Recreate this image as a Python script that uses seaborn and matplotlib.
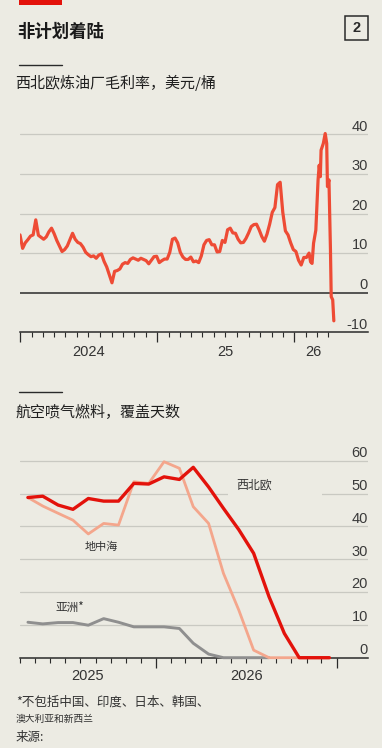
import pandas as pd
import seaborn as sns
import matplotlib.pyplot as plt
import matplotlib.dates as mdates
import matplotlib.transforms as mtransforms
from matplotlib.patches import Rectangle
from matplotlib.ticker import FixedLocator, NullFormatter

# 西北欧炼油厂毛利率 (weekly from 2024-01-01), then the March 2026 spike
margin_start = "2024-01-01"
margin_weekly = [14.6, 11.2, 12.6, 13.4, 14.3, 14.6, 18.4, 14.5, 14.0, 13.5,
                 14.1, 15.4, 16.3, 14.9, 13.2, 11.8, 10.4, 10.9, 11.8, 13.4,
                 15.0, 13.5, 12.7, 12.4, 11.5, 10.2, 9.6, 9.1, 9.3, 8.7,
                 9.5, 9.8, 7.9, 6.5, 4.5, 2.5, 5.4, 5.6, 6.0, 7.2,
                 7.6, 7.4, 8.4, 8.8, 8.5, 8.2, 8.7, 8.4, 8.1, 7.3,
                 8.2, 9.1, 9.2, 7.6, 8.1, 8.5, 8.5, 10.2, 13.5, 13.8,
                 12.6, 10.2, 9.0, 8.4, 8.4, 9.0, 7.8, 8.0, 7.6, 9.3,
                 12.1, 13.2, 13.4, 12.1, 12.1, 10.3, 10.4, 13.2, 12.7, 15.9,
                 16.3, 15.1, 15.0, 13.5, 12.6, 12.7, 13.7, 15.1, 16.7, 17.2,
                 17.3, 15.9, 14.2, 13.0, 14.8, 17.3, 20.3, 21.5, 27.3, 27.9,
                 20.3, 15.6, 14.6, 12.6, 10.9, 10.4, 8.2, 7.0, 8.9, 8.9,
                 10.0]
spike_dates = ["2026-02-13", "2026-02-17", "2026-02-21", "2026-02-27", "2026-03-05",
               "2026-03-08", "2026-03-11", "2026-03-13", "2026-03-19", "2026-03-24",
               "2026-03-28", "2026-03-30", "2026-04-03", "2026-04-07", "2026-04-09",
               "2026-04-13", "2026-04-16"]
spike_values = [7.8, 7.4, 12.5, 15.8, 28.5, 32.2, 29.3, 36.0, 37.7, 40.2,
                37.7, 26.8, 28.5, 10.8, -1.0, -1.8, -7.1]

# 航空喷气燃料，覆盖天数 (monthly, mid-month, from April 2025)
cover_start = "2025-04-01"
nw_europe = [48.8, 49.2, 46.5, 45.2, 48.5, 47.7, 47.7, 53.1, 52.9, 55.1, 54.3,
             58.0, 52.0, 45.5, 39.0, 31.8, 18.6, 7.4, 0, 0, 0]
mediterranean = [48.8, 46.2, 44.0, 41.9, 37.7, 40.9, 40.4, 53.6, 53.1, 59.7, 57.7,
                 46.0, 40.9, 25.7, 14.5, 2.3, 0, 0, 0, 0, 0]
asia = [10.8, 10.3, 10.7, 10.7, 9.9, 11.9, 10.8, 9.4, 9.4, 9.4, 8.9,
        4.4, 1.1, 0, 0, 0, 0]

top_yticks = [40, 30, 20, 10, 0, -10]
bottom_yticks = [60, 50, 40, 30, 20, 10, 0]

BG = "#ECEBE3"
DARK = "#2a2a2a"
GRID = "#C9C9C2"
CJK = ["Noto Sans CJK SC", "DejaVu Sans"]
NUM = ["Liberation Sans", "Noto Sans CJK SC"]

sns.set_style("white")
plt.rcParams["font.family"] = NUM

weekly_dates = pd.date_range(margin_start, periods=len(margin_weekly), freq="7D")
margin = pd.DataFrame({
    "date": list(weekly_dates) + list(pd.to_datetime(spike_dates)),
    "value": margin_weekly + spike_values,
})
cover_dates = pd.date_range(cover_start, periods=len(nw_europe), freq="MS") + pd.Timedelta(days=16)
cover = pd.DataFrame({"date": cover_dates, "nw": nw_europe, "med": mediterranean})
cover_asia = pd.DataFrame({"date": cover_dates[:len(asia)], "asia": asia})

fig = plt.figure(figsize=(3.82, 7.48), dpi=100, facecolor=BG)
W, H = 382, 748


def fx(px):
    return px / W


def fy(py):
    return 1 - py / H


# header pieces
fig.patches.append(Rectangle((fx(19), fy(5)), fx(43), 5 / H, transform=fig.transFigure,
                             color="#E3120B", lw=0))
fig.text(fx(17), fy(32), "非计划着陆", family=CJK, fontsize=12.5, fontweight="bold",
         color="#1a1a1a", va="center", ha="left")
fig.patches.append(Rectangle((fx(345), fy(39.5)), fx(23), 23 / H, transform=fig.transFigure,
                             fill=False, edgecolor=DARK, lw=1.1))
fig.text(fx(356.5), fy(28), "2", fontsize=10.5, fontweight="bold", color=DARK,
         ha="center", va="center")

for ly, txt, ty in [(65, "西北欧炼油厂毛利率，美元/桶", 83), (392, "航空喷气燃料，覆盖天数", 412)]:
    fig.add_artist(plt.Line2D([fx(19), fx(62)], [fy(ly), fy(ly)], color=DARK, lw=1.0))
    fig.text(fx(15), fy(ty), txt, family=CJK, fontsize=10.8, color="#1f1f1f",
             ha="left", va="center")

fig.text(fx(16), fy(702), "*不包括中国、印度、日本、韩国、", family=CJK, fontsize=9,
         color="#333333", va="center")
fig.text(fx(16), fy(719), "澳大利亚和新西兰", family=CJK, fontsize=7, color="#333333", va="center")
fig.text(fx(16), fy(737), "来源:", family=CJK, fontsize=9, color="#333333", va="center")


def style_axis(ax, yvals, grid_vals, minor_ticks, major_ticks, year_labels, label_drop):
    ax.set_facecolor(BG)
    for s in ["top", "left", "right"]:
        ax.spines[s].set_visible(False)
    ax.spines["bottom"].set_color(DARK)
    ax.spines["bottom"].set_linewidth(1.1)
    for g in grid_vals:
        ax.axhline(g, color=GRID, lw=0.9, zorder=0)
    ax.set_yticks([])
    ax.set_xlabel("")
    ax.set_ylabel("")
    ax.xaxis.set_major_locator(FixedLocator(mdates.date2num(pd.to_datetime(major_ticks))))
    ax.xaxis.set_minor_locator(FixedLocator(mdates.date2num(minor_ticks)))
    ax.xaxis.set_major_formatter(NullFormatter())
    ax.xaxis.set_minor_formatter(NullFormatter())
    ax.tick_params(axis="x", which="both", bottom=True, top=False)
    ax.tick_params(axis="x", which="major", length=7, width=0.9, color=DARK, direction="out")
    ax.tick_params(axis="x", which="minor", length=3.8, width=0.8, color=DARK, direction="out")
    trans = mtransforms.offset_copy(ax.get_yaxis_transform(), fig=fig, x=0, y=2.6, units="points")
    for v in yvals:
        ax.text(1.0, v, f"{v}", transform=trans, ha="right", va="baseline",
                fontsize=10.5, color="#3a3a3a")
    for d, lab in year_labels:
        ax.annotate(lab, xy=(pd.Timestamp(d), 0), xycoords=("data", "axes fraction"),
                    xytext=(0, -label_drop * 0.72), textcoords="offset points",
                    ha="center", va="center", fontsize=10.5, color="#333333")


# top chart
ax1 = fig.add_axes([fx(20), fy(332.3), fx(348), (332.3 - 126.4) / H])
sns.lineplot(data=margin, x="date", y="value", ax=ax1, color="#EE4B35", lw=2.3,
             sort=True, zorder=3)
ax1.set_ylim(-10, 42)
ax1.set_xlim(pd.Timestamp("2024-01-01"), pd.Timestamp("2026-07-16"))
ax1.axhline(0, color=DARK, lw=1.1, zorder=1)
style_axis(ax1, top_yticks, [10, 20, 30, 40],
           pd.date_range("2024-01-01", "2026-04-01", freq="MS"),
           ["2024-01-01", "2025-01-01", "2026-01-01"],
           [("2024-07-02", "2024"), ("2025-07-02", "25"), ("2026-02-20", "26")], 19.4)

# bottom chart
ax2 = fig.add_axes([fx(20), fy(657.7), fx(348), (657.7 - 450.9) / H])
sns.lineplot(data=cover_asia, x="date", y="asia", ax=ax2, color="#8F8F8F", lw=2.1,
             clip_on=False, zorder=3)
sns.lineplot(data=cover, x="date", y="med", ax=ax2, color="#F4A68C", lw=2.0,
             clip_on=False, zorder=4)
sns.lineplot(data=cover, x="date", y="nw", ax=ax2, color="#E3120B", lw=2.4,
             clip_on=False, zorder=5)
ax2.set_ylim(0, 63)
ax2.set_xlim(pd.Timestamp("2025-04-01"), pd.Timestamp("2027-03-05"))
style_axis(ax2, bottom_yticks, [10, 20, 30, 40, 50, 60],
           pd.date_range("2025-04-01", "2026-12-01", freq="MS"),
           ["2026-01-01", "2027-01-01"],
           [("2025-08-16", "2025"), ("2026-07-02", "2026")], 18)
ax2.add_patch(Rectangle((0.598, 47.5), 0.27, 7, transform=ax2.get_yaxis_transform(),
                        color=BG, lw=0, zorder=1))
tr = ax2.get_yaxis_transform()
ax2.text(0.672, 52.6, "西北欧", transform=tr, family=CJK, fontsize=8.6, color="#333333",
         ha="center", va="center", zorder=6)
ax2.text(0.233, 33.7, "地中海", transform=tr, family=CJK, fontsize=8.0, color="#333333",
         ha="center", va="center", zorder=6)
ax2.text(0.144, 15.2, "亚洲*", transform=tr, family=CJK, fontsize=8.4, color="#333333",
         ha="center", va="center", zorder=6)

fig.savefig("out.png", dpi=100, facecolor=BG)
